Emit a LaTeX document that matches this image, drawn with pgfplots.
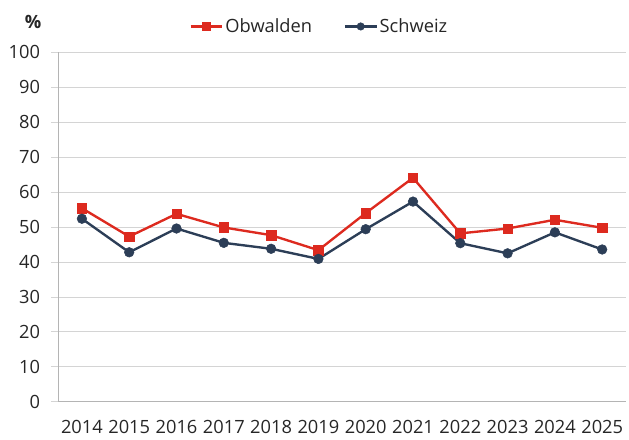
\documentclass[border=0pt]{standalone}
\usepackage{pgfplots}
\pgfplotsset{compat=1.18}
\usepackage{fontspec}
\setmainfont{Open Sans}
\definecolor{obred}{HTML}{DD2A1F}
\definecolor{chnavy}{HTML}{2C3E57}
\definecolor{axgray}{HTML}{B4B4B4}
\definecolor{grgray}{HTML}{D4D4D4}
\definecolor{txt}{HTML}{262626}
\begin{document}
\begin{tikzpicture}
\begin{axis}[
  name=ax,
  at={(0,0)}, anchor=south west,
  x=47.9bp, y=3.54bp,
  scale only axis,
  xmin=-0.5, xmax=11.5,
  ymin=0, ymax=100,
  axis x line*=bottom,
  axis y line*=left,
  axis line style={axgray, line width=0.8bp},
  xtick={0,...,11},
  xticklabels={2014,2015,2016,2017,2018,2019,2020,2021,2022,2023,2024,2025},
  minor xtick={-0.5,0.5,...,10.5},
  ytick={0,10,...,100},
  tick align=outside,
  major tick length=7bp,
  minor tick length=6bp,
  xtick style={draw=none},
  minor x tick style={axgray, line width=0.8bp},
  ytick style={grgray, line width=1bp},
  ymajorgrids,
  major grid style={grgray, line width=1bp},
  /pgf/number format/assume math mode=true,
  ticklabel style={font=\fontsize{18.5bp}{22bp}\selectfont, text=txt},
  yticklabel style={xshift=-8bp},
  xticklabel style={inner sep=0.5bp, yshift=-11bp},
  legend columns=2,
  legend style={draw=none, fill=none, at={(0.46,1.074)}, anchor=center,
    font=\fontsize{18.5bp}{22bp}\selectfont, text=txt,
    /tikz/every even column/.append style={column sep=30bp}},
  legend image code/.code={
    \draw[#1, mark size=3.8bp] (0bp,0bp) -- (32bp,0bp);
    \draw[#1, mark size=3.8bp] plot coordinates {(16bp,0bp)};
  },
  clip=false,
]
\addplot[obred, line width=2.4bp, mark=square*, mark size=4.8bp, mark options={solid, line width=0.5bp}]
  coordinates {(0,55.4) (1,47.3) (2,53.8) (3,49.9) (4,47.7) (5,43.4) (6,54.0) (7,64.1) (8,48.2) (9,49.6) (10,52.1) (11,49.8)};
\addlegendentry{Obwalden}
\addplot[chnavy, line width=2.4bp, mark=*, mark size=4.9bp, mark options={solid, line width=0.5bp}]
  coordinates {(0,52.4) (1,42.8) (2,49.6) (3,45.5) (4,43.8) (5,40.9) (6,49.4) (7,57.3) (8,45.4) (9,42.5) (10,48.5) (11,43.6)};
\addlegendentry{Schweiz}
\end{axis}
\node[font=\fontsize{18.5bp}{22bp}\selectfont\bfseries, text=txt] at ([xshift=-25.5bp, yshift=384.5bp]ax.south west) {\%};
\pgfresetboundingbox
\useasboundingbox ([xshift=-59bp, yshift=-38bp]ax.south west) rectangle ([xshift=578bp, yshift=407bp]ax.south west);
\end{tikzpicture}
\end{document}
